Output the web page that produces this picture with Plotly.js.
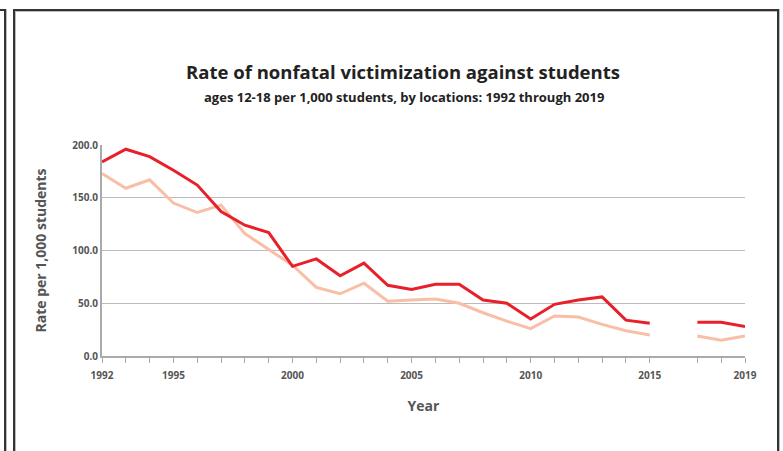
<!DOCTYPE html>
<html>
<head>
<meta charset="utf-8">
<script src="https://cdn.plot.ly/plotly-3.0.1.min.js"></script>
<style>
  html, body { margin: 0; padding: 0; background: #fff; }
  #wrap { position: relative; width: 783px; height: 451px; overflow: hidden; background: #fff; }
  #chart { position: absolute; left: 0; top: 0; width: 783px; height: 451px; }
  .frameL { position: absolute; left: -20px; top: 9px; width: 24px; height: 460px;
            border-right: 2px solid #333; border-top: 2px solid #333; box-shadow: 1px 0 0 #bbb; }
  .frameM { position: absolute; left: 13px; top: 9px; width: 762px; height: 460px;
            border: 2px solid #333; box-shadow: inset 1px 1px 0 #bbb, 1px 0 0 #bbb; }
</style>
</head>
<body>
<div id="wrap">
  <div id="chart"></div>
  <div class="frameL"></div>
  <div class="frameM"></div>
</div>
<script>
// Data (2016: no data)
const years = [1992,1993,1994,1995,1996,1997,1998,1999,2000,2001,2002,2003,2004,2005,2006,2007,2008,2009,2010,2011,2012,2013,2014,2015,2016,2017,2018,2019];
const seriesA = [184,196,189,176,162,137,124,117,85,92,76,88,67,63,68,68,53,50,35,49,53,56,34,31,null,32,32,28];
const seriesB = [173,159,167,145,136,143,116,101,86,65,59,69,52,53,54,50,41,33,26,38,37,30,24,20,null,19,15,19];
const xTickVals = [1992,1995,2000,2005,2010,2015,2019];
const yTickVals = [0,50,100,150,200];
const yTickText = ['0.0','50.0','100.0','150.0','200.0'];
const gridVals = [50,100,150];

const minorTicks = years.filter((y, i) => seriesA[i] !== null);

const traces = [
  { x: [years[0]], y: [null], yaxis: 'y2', type: 'scatter', mode: 'lines', hoverinfo: 'skip', showlegend: false },
  { x: years, y: seriesB, type: 'scatter', mode: 'lines', name: 'B',
    line: { color: '#f9bea6', width: 3 }, connectgaps: false },
  { x: years, y: seriesA, type: 'scatter', mode: 'lines', name: 'A',
    line: { color: '#e8202a', width: 3 }, connectgaps: false }
];

const layout = {
  width: 783, height: 451,
  paper_bgcolor: 'rgba(0,0,0,0)', plot_bgcolor: 'rgba(0,0,0,0)',
  margin: { l: 102, r: 38, t: 145, b: 94.5 },
  showlegend: false,
  font: { family: '"Open Sans", sans-serif', color: '#555' },
  title: {
    text: '<b>Rate of nonfatal victimization against students</b>',
    font: { size: 18.5, color: '#222', family: '"Open Sans", sans-serif' },
    xref: 'container', x: 403/783, xanchor: 'center',
    yref: 'container', y: 1 - 73/451, yanchor: 'middle'
  },
  annotations: [{
    text: '<b>ages 12-18 per 1,000 students, by locations: 1992 through 2019</b>',
    xref: 'paper', yref: 'paper', showarrow: false,
    x: (404 - 102) / 643, y: (356.5 - 97) / 211.5, xanchor: 'center', yanchor: 'middle',
    font: { size: 13, color: '#222' }
  }],
  xaxis: {
    range: [1992, 2019], tickmode: 'array', tickvals: xTickVals,
    ticks: 'outside', ticklen: 5, tickwidth: 1, tickcolor: '#aaa', ticklabelstandoff: 4,
    minor: { tickmode: 'array', tickvals: minorTicks, ticks: 'outside', ticklen: 5, tickwidth: 1, tickcolor: '#aaa', showgrid: false },
    showline: true, linecolor: '#aaa', linewidth: 2, showgrid: false, zeroline: false,
    tickfont: { size: 10, color: '#555', family: '"Open Sans", sans-serif', weight: 'bold' },
    title: { text: '<b>Year</b>', font: { size: 14, color: '#555' }, standoff: 20 }
  },
  yaxis: {
    range: [0, 200], tickmode: 'array', tickvals: yTickVals, ticktext: yTickText,
    ticks: '', showline: true, linecolor: '#aaa', linewidth: 2, showgrid: false, zeroline: false,
    tickfont: { size: 10, color: '#555', family: '"Open Sans", sans-serif', weight: 'bold' },
    title: { text: '<b>Rate per 1,000 students</b>', font: { size: 14, color: '#555' }, standoff: 22 }
  },
  yaxis2: {
    overlaying: 'y', range: [0, 200], tickmode: 'array', tickvals: gridVals,
    showticklabels: false, ticks: '', showgrid: true, gridcolor: '#bbb', gridwidth: 1.3,
    showline: false, zeroline: false
  }
};

Plotly.newPlot('chart', traces, layout, { displayModeBar: false, staticPlot: true });
</script>
</body>
</html>
